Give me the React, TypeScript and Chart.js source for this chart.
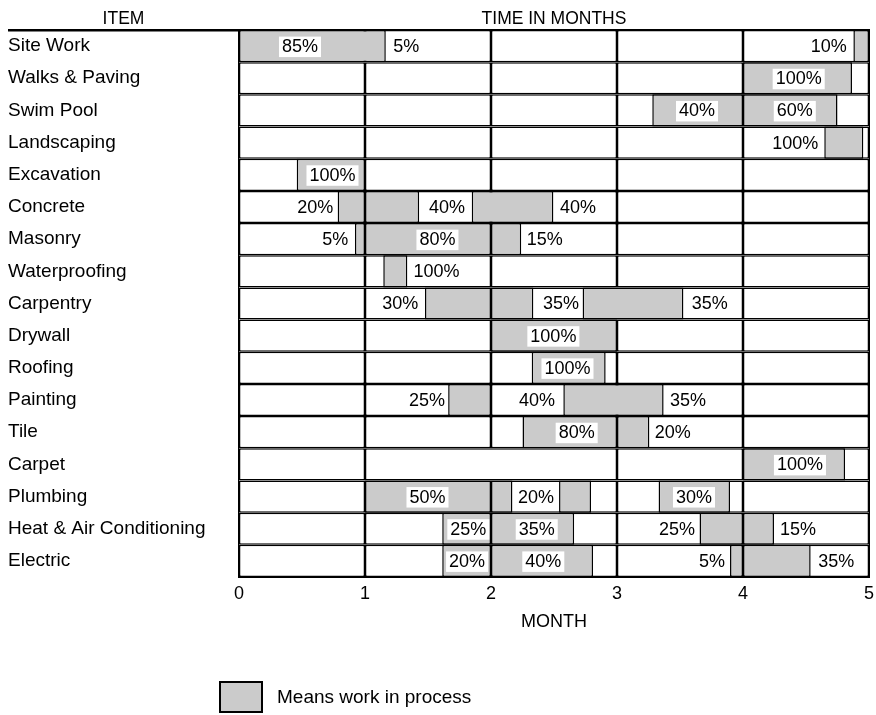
import { useEffect, useRef } from "react";
import { Chart, registerables } from "chart.js";

Chart.register(...registerables);

const FONT = '"Liberation Sans", Arial, Helvetica, sans-serif';

// Categories (rows, top to bottom)
const items = [
  "Site Work",
  "Walks & Paving",
  "Swim Pool",
  "Landscaping",
  "Excavation",
  "Concrete",
  "Masonry",
  "Waterproofing",
  "Carpentry",
  "Drywall",
  "Roofing",
  "Painting",
  "Tile",
  "Carpet",
  "Plumbing",
  "Heat & Air Conditioning",
  "Electric",
];

// Month axis ticks
const monthTicks = [0, 1, 2, 3, 4, 5];

// White month cells of each row (cell edges in months)
const standardCells = [0, 1, 2, 3, 4, 5];
const carpetCells = [0, 1, 3, 4, 5];
const rowCells = items.map((name) => (name === "Carpet" ? carpetCells : standardCells));

// Work in process (grey spans, [start month, end month]) per row
const workSpans: [number, number][][] = [
  [[0, 1.165], [4.876, 5]], // Site Work
  [[4, 4.865]], // Walks & Paving
  [[3.28, 4], [4, 4.75]], // Swim Pool
  [[4.645, 4.955]], // Landscaping
  [[0.458, 1]], // Excavation
  [[0.783, 1], [1, 1.43], [1.847, 2.495]], // Concrete
  [[0.92, 1], [1, 2], [2, 2.24]], // Masonry
  [[1.145, 1.336]], // Waterproofing
  [[1.476, 2], [2, 2.336], [2.727, 3.527]], // Carpentry
  [[2, 3]], // Drywall
  [[2.323, 2.91]], // Roofing
  [[1.66, 2], [2.574, 3.37]], // Painting
  [[2.25, 3], [3, 3.257]], // Tile
  [[4, 4.81]], // Carpet
  [[1, 2], [2, 2.17], [2.54, 2.794], [3.33, 3.897]], // Plumbing
  [[1.613, 2], [2, 2.66], [3.655, 4], [4, 4.246]], // Heat & Air Conditioning
  [[1.613, 2], [2, 2.81], [3.897, 4], [4, 4.537]], // Electric
];

// Percentage labels: [row, text, anchor month, kind]
const pctLabels: [number, string, number, string][] = [
  [0, "85%", 0.484, "box"], [0, "5%", 1.225, "left"], [0, "10%", 4.823, "right"],
  [1, "100%", 4.442, "box"],
  [2, "40%", 3.635, "box"], [2, "60%", 4.411, "box"],
  [3, "100%", 4.598, "right"],
  [4, "100%", 0.742, "box"],
  [5, "20%", 0.749, "right"], [5, "40%", 1.651, "center"], [5, "40%", 2.548, "left"],
  [6, "5%", 0.868, "right"], [6, "80%", 1.575, "box"], [6, "15%", 2.283, "left"],
  [7, "100%", 1.384, "left"],
  [8, "30%", 1.423, "right"], [8, "35%", 2.555, "center"], [8, "35%", 3.593, "left"],
  [9, "100%", 2.495, "box"],
  [10, "100%", 2.607, "box"],
  [11, "25%", 1.635, "right"], [11, "40%", 2.508, "right"], [11, "35%", 3.42, "left"],
  [12, "80%", 2.68, "box"], [12, "20%", 3.3, "left"],
  [13, "100%", 4.452, "box"],
  [14, "50%", 1.496, "box"], [14, "20%", 2.357, "center"], [14, "30%", 3.611, "box"],
  [15, "25%", 1.82, "box"], [15, "35%", 2.363, "box"], [15, "25%", 3.619, "right"], [15, "15%", 4.294, "left"],
  [16, "20%", 1.81, "box"], [16, "40%", 2.415, "box"], [16, "5%", 3.857, "right"], [16, "35%", 4.598, "left"],
];

const itemHeader = "ITEM";
const timeHeader = "TIME IN MONTHS";
const axisTitle = "MONTH";
const legendText = "Means work in process";

const GREY = "#cbcbcb";
const BORDER_W = 1.5;

const overlay = {
  id: "overlay",
  afterDatasetsDraw(chart: any) {
    const { ctx, chartArea, scales } = chart;
    const xs = scales.x;
    const ys = scales.y;
    ctx.save();
    // outer frame
    ctx.strokeStyle = "#000";
    ctx.lineWidth = 1;
    ctx.strokeRect(chartArea.left - 0.5, chartArea.top - 0.5, chartArea.width + 1, chartArea.height + 1);
    // header rule to the left
    ctx.fillStyle = "#000";
    ctx.fillRect(8, chartArea.top - 1, chartArea.left - 8, 2.5);
    // percentage labels
    ctx.font = `18px ${FONT}`;
    ctx.textBaseline = "middle";
    for (const [row, text, at, kind] of pctLabels) {
      const px = xs.getPixelForValue(at);
      const py = ys.getPixelForValue(row);
      if (kind === "box") {
        const w = ctx.measureText(text).width + 6;
        ctx.fillStyle = "#fff";
        ctx.fillRect(px - w / 2, py - 9.5, w, 20.5);
        ctx.textAlign = "center";
      } else {
        ctx.textAlign = kind === "left" ? "left" : kind === "right" ? "right" : "center";
      }
      ctx.fillStyle = "#000";
      ctx.fillText(text, px, py + 1);
    }
    ctx.restore();
  },
  afterDraw(chart: any) {
    const { ctx, chartArea } = chart;
    ctx.save();
    ctx.fillStyle = "#000";
    ctx.textBaseline = "middle";
    ctx.textAlign = "center";
    ctx.font = `17.5px ${FONT}`;
    ctx.fillText(itemHeader, (8 + chartArea.left) / 2, 19);
    ctx.fillText(timeHeader, (chartArea.left + chartArea.right) / 2, 19);
    // legend
    ctx.fillStyle = GREY;
    ctx.fillRect(220, 682, 42, 30);
    ctx.strokeStyle = "#000";
    ctx.lineWidth = 2;
    ctx.strokeRect(220, 682, 42, 30);
    ctx.fillStyle = "#000";
    ctx.textAlign = "left";
    ctx.font = `19px ${FONT}`;
    ctx.fillText(legendText, 277, 698);
    ctx.restore();
  },
};

export default function App() {
  const ref = useRef<HTMLCanvasElement>(null);
  useEffect(() => {
    const canvas = ref.current;
    if (!canvas) return;
    Chart.defaults.font.family = FONT;
    Chart.defaults.color = "#000";

    const cellCount = Math.max(...rowCells.map((c) => c.length - 1));
    const spanCount = Math.max(...workSpans.map((s) => s.length));
    const common = {
      borderColor: "#000",
      borderWidth: BORDER_W,
      borderSkipped: false,
      grouped: false,
      barPercentage: 1,
      categoryPercentage: 1,
      inflateAmount: 0,
    };
    const datasets: any[] = [];
    for (let k = 0; k < cellCount; k++) {
      datasets.push({
        label: `cell ${k + 1}`,
        data: rowCells.map((c) => (k + 1 < c.length ? [c[k], c[k + 1]] : null)),
        backgroundColor: "#fff",
        order: 2,
        ...common,
      });
    }
    for (let k = 0; k < spanCount; k++) {
      datasets.push({
        label: `work ${k + 1}`,
        data: workSpans.map((s) => (s[k] ? [s[k][0], s[k][1]] : null)),
        backgroundColor: GREY,
        order: 1,
        ...common,
      });
    }

    const chart = new Chart(canvas, {
      type: "bar",
      data: { labels: items, datasets },
      options: {
        indexAxis: "y",
        animation: false,
        responsive: true,
        maintainAspectRatio: false,
        layout: { padding: { left: 8, top: 30, right: 7, bottom: 78.5 } },
        plugins: { legend: { display: false }, tooltip: { enabled: false } },
        scales: {
          x: {
            type: "linear",
            min: monthTicks[0],
            max: monthTicks[monthTicks.length - 1],
            afterBuildTicks: (scale: any) => {
              scale.ticks = monthTicks.map((v) => ({ value: v }));
            },
            grid: { display: false, drawTicks: false },
            border: { display: false },
            ticks: { font: { size: 18 }, color: "#000", padding: 6, maxRotation: 0 },
            title: { display: true, text: axisTitle, font: { size: 18 }, color: "#000", padding: { top: 4, bottom: 4 } },
            afterFit: (scale: any) => {
              scale.height = 59.5;
              scale.paddingLeft = 0;
              scale.paddingRight = 0;
            },
          },
          y: {
            type: "category",
            grid: { display: false, drawTicks: false },
            border: { display: false },
            ticks: { font: { size: 19 }, color: "#000", crossAlign: "far", padding: 0, autoSkip: false },
            afterFit: (scale: any) => {
              scale.width = 231;
              scale.paddingTop = 0;
              scale.paddingBottom = 0;
            },
          },
        },
      } as any,
      plugins: [overlay],
    });
    return () => chart.destroy();
  }, []);

  return (
    <div style={{ position: "absolute", left: 0, top: 0, width: 876, height: 715, background: "#fff" }}>
      <canvas ref={ref} />
    </div>
  );
}
